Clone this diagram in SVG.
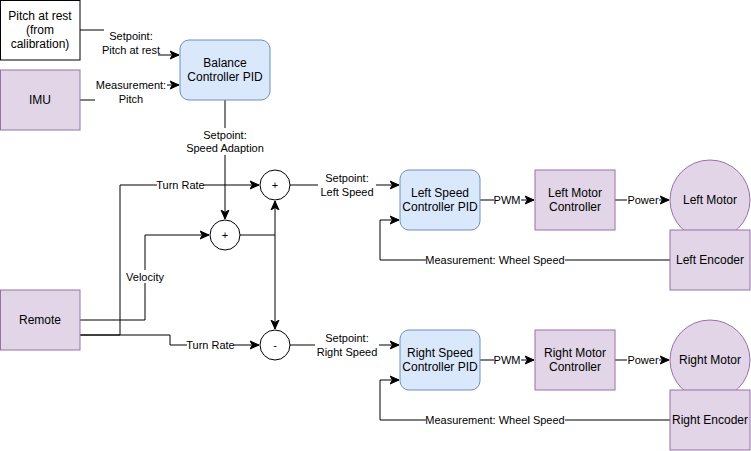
<svg xmlns="http://www.w3.org/2000/svg" width="751" height="451" viewBox="0 0 751 451">
<defs>
<style>
.t{font-family:"Liberation Sans",Arial,sans-serif;font-size:12px;fill:#000;text-anchor:middle;dominant-baseline:central}
.l{font-family:"Liberation Sans",Arial,sans-serif;font-size:11px;fill:#000;text-anchor:middle;dominant-baseline:central}
.lbg{fill:#fff}
.w{fill:#fff;stroke:#000;stroke-width:1}
.p{fill:#e1d5e7;stroke:#9673a6;stroke-width:1}
.b{fill:#dae8fc;stroke:#6c8ebf;stroke-width:1}
.e{fill:none;stroke:#000;stroke-width:1}
</style>
<marker id="a" viewBox="0 0 10 10" refX="9" refY="5" markerWidth="10" markerHeight="10" markerUnits="userSpaceOnUse" orient="auto">
<path d="M0,1 L9,5 L0,9 L2.5,5 Z" fill="#000" stroke="#000" stroke-width="1"/>
</marker>
</defs>
<rect width="751" height="451" fill="#fff"/>

<g id="connectors">
<path class="e" d="M80,30 H130 V55 H179" marker-end="url(#a)"/>
<path class="e" d="M80,100 H130 V85 H179" marker-end="url(#a)"/>
<path class="e" d="M225,100 V219" marker-end="url(#a)"/>
<path class="e" d="M80,335 H120 V185 H259" marker-end="url(#a)"/>
<path class="e" d="M80,320 H145 V235 H209" marker-end="url(#a)"/>
<path class="e" d="M80,335 H170 V345 H259" marker-end="url(#a)"/>
<path class="e" d="M240,235 H275 V201" marker-end="url(#a)"/>
<path class="e" d="M275,235 V329" marker-end="url(#a)"/>
<path class="e" d="M290,185 H399" marker-end="url(#a)"/>
<path class="e" d="M290,345 H399" marker-end="url(#a)"/>
<path class="e" d="M480,200 H534" marker-end="url(#a)"/>
<path class="e" d="M480,360 H534" marker-end="url(#a)"/>
<path class="e" d="M615,200 H669" marker-end="url(#a)"/>
<path class="e" d="M615,360 H669" marker-end="url(#a)"/>
<path class="e" d="M670,260 H380 V220 H399" marker-end="url(#a)"/>
<path class="e" d="M670,420 H380 V380 H399" marker-end="url(#a)"/>

<g id="lbl-pitch-setpoint">
<rect class="lbg" x="104" y="29" width="54" height="27"/>
<text class="l" x="131" y="36">Setpoint:</text>
<text class="l" x="131" y="50">Pitch at rest</text>
</g>
<g id="lbl-pitch-meas">
<rect class="lbg" x="95" y="79" width="72" height="27"/>
<text class="l" x="131" y="85">Measurement:</text>
<text class="l" x="131" y="99">Pitch</text>
</g>
<g id="lbl-speed-adapt">
<rect class="lbg" x="186" y="128" width="78" height="27"/>
<text class="l" x="225" y="135">Setpoint:</text>
<text class="l" x="225" y="148">Speed Adaption</text>
</g>
<g id="lbl-turn1">
<rect class="lbg" x="157" y="179" width="47" height="12"/>
<text class="l" x="180.5" y="185">Turn Rate</text>
</g>
<g id="lbl-velocity">
<rect class="lbg" x="125" y="270" width="40" height="13"/>
<text class="l" x="145" y="277">Velocity</text>
</g>
<g id="lbl-turn2">
<rect class="lbg" x="187" y="339" width="47" height="12"/>
<text class="l" x="210.5" y="345">Turn Rate</text>
</g>
<g id="lbl-left-sp">
<rect class="lbg" x="318" y="171" width="58" height="28"/>
<text class="l" x="347" y="178">Setpoint:</text>
<text class="l" x="347" y="192">Left Speed</text>
</g>
<g id="lbl-right-sp">
<rect class="lbg" x="315" y="331" width="64" height="28"/>
<text class="l" x="347" y="338">Setpoint:</text>
<text class="l" x="347" y="352">Right Speed</text>
</g>
<g id="lbl-pwm1">
<rect class="lbg" x="494" y="194" width="27" height="12"/>
<text class="l" x="507" y="200">PWM</text>
</g>
<g id="lbl-pwm2">
<rect class="lbg" x="494" y="354" width="27" height="12"/>
<text class="l" x="507" y="360">PWM</text>
</g>
<g id="lbl-power1">
<rect class="lbg" x="627" y="194" width="32" height="12"/>
<text class="l" x="643" y="200">Power</text>
</g>
<g id="lbl-power2">
<rect class="lbg" x="627" y="354" width="32" height="12"/>
<text class="l" x="643" y="360">Power</text>
</g>
<g id="lbl-meas-left">
<rect class="lbg" x="426" y="254" width="139" height="12"/>
<text class="l" x="495" y="260">Measurement: Wheel Speed</text>
</g>
<g id="lbl-meas-right">
<rect class="lbg" x="426" y="414" width="139" height="12"/>
<text class="l" x="495" y="420">Measurement: Wheel Speed</text>
</g>
</g>

<g id="pitch-rest">
<rect class="w" x="0.5" y="0.5" width="79.5" height="59.5"/>
<text class="t" x="40" y="16">Pitch at rest</text>
<text class="t" x="40" y="30">(from</text>
<text class="t" x="40" y="44">calibration)</text>
</g>
<g id="imu">
<rect class="p" x="0.5" y="70" width="79.5" height="60"/>
<text class="t" x="40" y="100">IMU</text>
</g>
<g id="balance-pid">
<rect class="b" x="180" y="40" width="90" height="60" rx="9"/>
<text class="t" x="225" y="63">Balance</text>
<text class="t" x="225" y="77">Controller PID</text>
</g>
<g id="remote">
<rect class="p" x="0.5" y="290" width="79.5" height="60"/>
<text class="t" x="40" y="320">Remote</text>
</g>
<g id="sum-mid">
<circle class="w" cx="225" cy="235" r="15"/>
<text class="l" x="225" y="235">+</text>
</g>
<g id="sum-left">
<circle class="w" cx="275" cy="185" r="15"/>
<text class="l" x="275" y="185">+</text>
</g>
<g id="diff-right">
<circle class="w" cx="275" cy="345" r="15"/>
<text class="l" x="275" y="345">-</text>
</g>
<g id="left-pid">
<rect class="b" x="400" y="170" width="80" height="60" rx="9"/>
<text class="t" x="440" y="193">Left Speed</text>
<text class="t" x="440" y="207">Controller PID</text>
</g>
<g id="right-pid">
<rect class="b" x="400" y="330" width="80" height="60" rx="9"/>
<text class="t" x="440" y="353">Right Speed</text>
<text class="t" x="440" y="367">Controller PID</text>
</g>
<g id="left-mc">
<rect class="p" x="535" y="170" width="80" height="60"/>
<text class="t" x="575" y="193">Left Motor</text>
<text class="t" x="575" y="207">Controller</text>
</g>
<g id="right-mc">
<rect class="p" x="535" y="330" width="80" height="60"/>
<text class="t" x="575" y="353">Right Motor</text>
<text class="t" x="575" y="367">Controller</text>
</g>
<g id="left-motor">
<circle class="p" cx="710" cy="200" r="40"/>
<text class="t" x="710" y="200">Left Motor</text>
</g>
<g id="right-motor">
<circle class="p" cx="710" cy="360" r="40"/>
<text class="t" x="710" y="360">Right Motor</text>
</g>
<g id="left-encoder">
<rect class="p" x="670" y="230" width="80" height="60"/>
<text class="t" x="710" y="260">Left Encoder</text>
</g>
<g id="right-encoder">
<rect class="p" x="670" y="390" width="80" height="60"/>
<text class="t" x="710" y="420">Right Encoder</text>
</g>
</svg>
